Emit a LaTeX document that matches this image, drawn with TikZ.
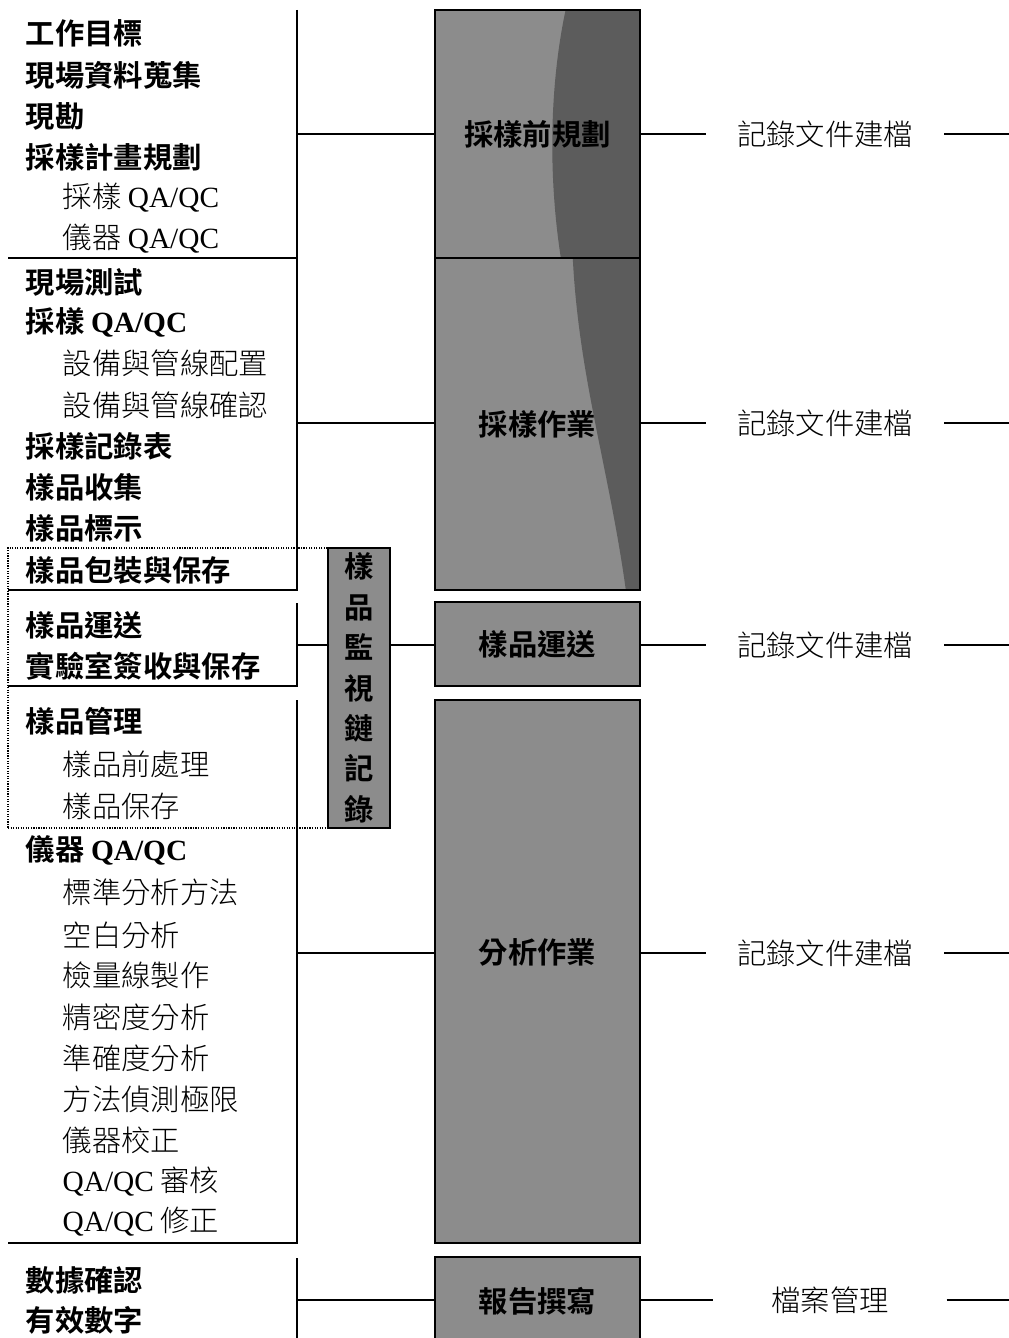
\documentclass[tikz,border=0pt]{standalone}
\usepackage{fontspec}
\setmainfont{Liberation Serif}
\newfontfamily\cjk{Noto Sans CJK TC}[BoldFont={Noto Sans CJK TC Bold}]
\newfontfamily\cjklight{Noto Sans CJK TC Light}
\usetikzlibrary{positioning, fit, backgrounds}

\begin{document}
\begin{tikzpicture}[
    x=0.75pt, y=-0.75pt,
    line width=1.1pt,
    % Styles
    head/.style={ % Bold list entry
        anchor=west,
        inner sep=0pt,
        font=\cjk\bfseries\fontsize{22}{26}\selectfont
    },
    sub/.style={ % Indented list entry
        anchor=west,
        inner sep=0pt,
        font=\cjklight\fontsize{22}{26}\selectfont
    },
    bar/.style={ % Stage bar, filled on the background layer
        rectangle,
        draw=black,
        inner sep=0pt
    },
    barfill/.style={
        fill=black!45
    },
    streak/.style={ % Dark streak inside a bar
        fill=black!64
    },
    bartext/.style={
        inner sep=0pt,
        font=\cjk\bfseries\fontsize{22}{26}\selectfont
    },
    doc/.style={ % Right hand note
        inner sep=0pt,
        inner xsep=23pt,
        font=\cjklight\fontsize{22}{26}\selectfont
    },
    link/.style={
        line width=1.1pt
    }
]
    \useasboundingbox (0,0) rectangle (1009,1338);
    \clip (0,0) rectangle (1009,1338);

    % Stage bars
    \node[bar, fit={(435,10) (640,258)}, label={[bartext]center:採樣前規劃}] (plan) {};
    \node[bar, fit={(435,258) (640,590)}, label={[bartext]center:採樣作業}] (samp) {};
    \node[bar, fit={(435,602) (640,686)}, label={[bartext]center:樣品運送}] (trans) {};
    \node[bar, fit={(435,700) (640,1243)}, label={[bartext, yshift=14pt]center:分析作業}] (anal) {};
    \node[bar, fit={(435,1257) (640,1345)}, label={[bartext]center:報告撰寫}] (rept) {};

    % Pre-sampling planning
    \node[head] (goal) at (25,33) {工作目標};
    \node[head] (survey) at (25,75) {現場資料蒐集};
    \node[head] (visit) at (25,116) {現勘};
    \node[head] (scheme) at (25,157) {採樣計畫規劃};
    \node[sub] (sqa_1) at (62,198) {採樣 {\rmfamily QA/QC}};
    \node[sub] (iqa_1) at (62,239) {儀器 {\rmfamily QA/QC}};

    % Sampling
    \node[head] (fieldtest) at (25,282) {現場測試};
    \node[head] (sqa_2) at (25,322) {採樣 {\rmfamily QA/QC}};
    \node[sub] (layout) at (62,363) {設備與管線配置};
    \node[sub] (check) at (62,405) {設備與管線確認};
    \node[head] (sheet) at (25,446) {採樣記錄表};
    \node[head] (collect) at (25,487) {樣品收集};
    \node[head] (tagging) at (25,528) {樣品標示};
    \node[head] (pack) at (25,570) {樣品包裝與保存};

    % Transport
    \node[head] (ship) at (25,625) {樣品運送};
    \node[head] (receipt) at (25,666) {實驗室簽收與保存};

    % Analysis
    \node[head] (manage) at (25,721) {樣品管理};
    \node[sub] (pretreat) at (62,764) {樣品前處理};
    \node[sub] (store) at (62,806) {樣品保存};
    \node[head] (iqa_2) at (25,850) {儀器 {\rmfamily QA/QC}};
    \foreach \y/\t [count=\i] in {892/標準分析方法, 935/空白分析, 975/檢量線製作,
            1017/精密度分析, 1058/準確度分析, 1099/方法偵測極限, 1140/儀器校正,
            1182/{{\rmfamily QA/QC} 審核}, 1222/{{\rmfamily QA/QC} 修正}}
        \node[sub] (ana_\i) at (62,\y) {\t};

    % Report
    \node[head] (verify) at (25,1280) {數據確認};
    \node[head] (digits) at (25,1320) {有效數字};

    % Brackets
    \draw (297,10) -- (297,258) -- (8,258);
    \draw (297,258) -- (297,590) -- (8,590);
    \draw (297,603) -- (297,686) -- (8,686);
    \draw (297,700) -- (297,1243) -- (8,1243);
    \draw (297,1258) -- (297,1345);

    \coordinate (plan_br) at (297,134);
    \coordinate (samp_br) at (297,423);
    \coordinate (trans_br) at (297,645);
    \coordinate (anal_br) at (297,953);
    \coordinate (rept_br) at (297,1300);

    % Bracket -> Bar
    \draw [link] (plan_br) -- (plan_br -| plan.west);
    \draw [link] (samp_br) -- (samp_br -| samp.west);
    \draw [link] (anal_br) -- (anal_br -| anal.west);
    \draw [link] (rept_br) -- (rept_br -| rept.west);

    % Bar fills, streaks and the link hidden by the chain bar
    \begin{scope}[on background layer]
        \foreach \b in {plan, samp, trans, anal, rept}
            \fill[barfill] (\b.north west) rectangle (\b.south east);
        \fill[streak, shift={(plan.north east)}]
            (-75,0) .. controls (-92,80) and (-92,170) .. (-80,248) -- (0,248) -- (0,0) -- cycle;
        \fill[streak, shift={(samp.north east)}]
            (-68,0) .. controls (-62,120) and (-32,210) .. (-15,332) -- (0,332) -- (0,0) -- cycle;
        \draw [link] (trans_br) -- (trans_br -| trans.west);
    \end{scope}

    % Chain of custody
    \node[draw, densely dotted, line width=0.9pt, inner sep=0pt, fit={(8,548) (390,828)}] (custody) {};
    \node[bar, barfill, fit={(328,548) (390,828)},
        label={[bartext, align=center, font=\cjk\bfseries\fontsize{22}{30.3}\selectfont]center:樣\\品\\監\\視\\鏈\\記\\錄}]
        (chain) {};

    % Records
    \foreach \n/\y in {1/134, 2/423, 3/645, 4/953} {
        \node[doc] (doc_\n) at (825,\y) {記錄文件建檔};
        \coordinate (doc_\n_end) at (1009,\y);
        \draw [link] (doc_\n) -- (doc_\n_end);
    }
    \node[doc, inner xsep=43pt] (doc_5) at (830,1300) {檔案管理};
    \coordinate (doc_5_end) at (1009,1300);
    \draw [link] (doc_5) -- (doc_5_end);

    % Bar -> Record
    \draw [link] (plan.east |- doc_1) -- (doc_1);
    \draw [link] (samp.east |- doc_2) -- (doc_2);
    \draw [link] (trans.east |- doc_3) -- (doc_3);
    \draw [link] (anal.east |- doc_4) -- (doc_4);
    \draw [link] (rept.east |- doc_5) -- (doc_5);
\end{tikzpicture}
\end{document}
